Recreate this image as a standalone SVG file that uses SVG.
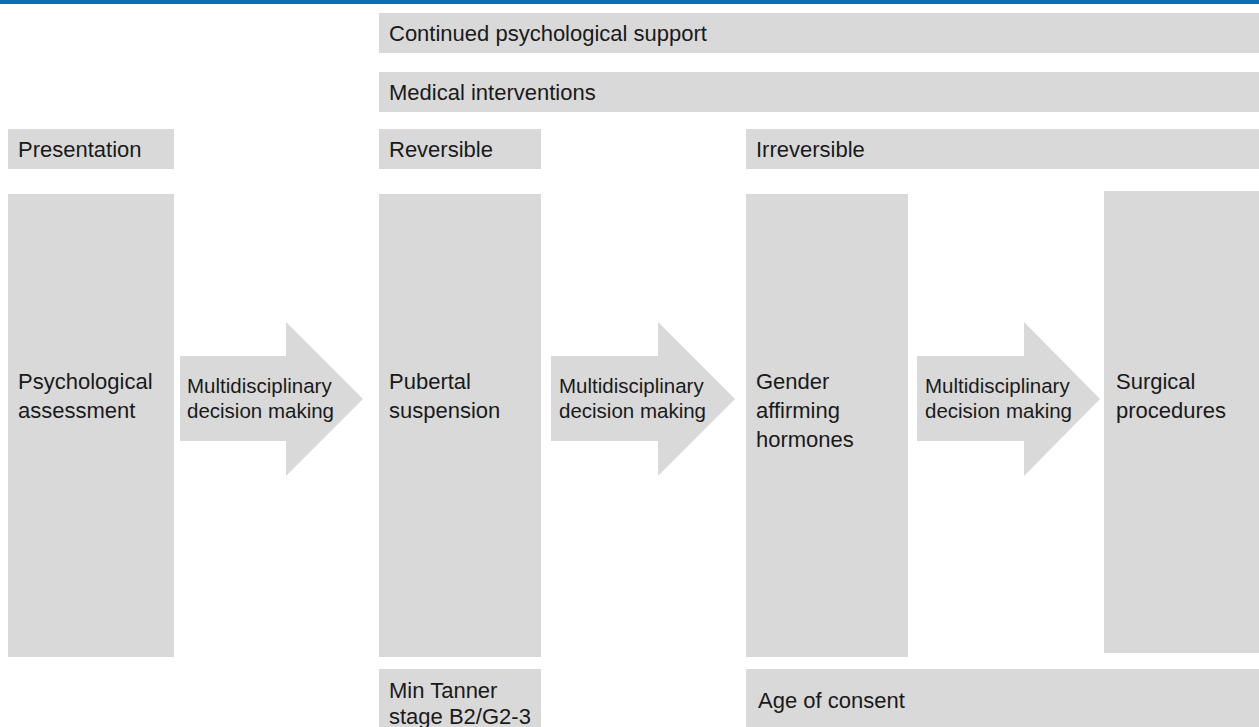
<svg xmlns="http://www.w3.org/2000/svg" width="1259" height="727" viewBox="0 0 1259 727">
  <style>
    .box { fill: #d9d9d9; }
    .lbl { font-family: "Liberation Sans", Arial, sans-serif; font-size: 22px; fill: #1a1a1a; }
    .arr { fill: #d9d9d9; }
    .alb { font-family: "Liberation Sans", Arial, sans-serif; font-size: 20.5px; fill: #1a1a1a; }
  </style>
  <rect x="0" y="0" width="1259" height="727" fill="#ffffff"/>
  <rect x="0" y="0" width="1259" height="4" fill="#0a6fb5"/>

  <g id="continued-support">
    <rect class="box" x="379" y="13" width="880" height="40"/>
    <text class="lbl" x="389" y="41">Continued psychological support</text>
  </g>
  <g id="medical-interventions">
    <rect class="box" x="379" y="72" width="880" height="40"/>
    <text class="lbl" x="389" y="100">Medical interventions</text>
  </g>
  <g id="presentation">
    <rect class="box" x="8" y="129" width="166" height="40"/>
    <text class="lbl" x="18" y="157">Presentation</text>
  </g>
  <g id="reversible">
    <rect class="box" x="379" y="129" width="162" height="40"/>
    <text class="lbl" x="389" y="157">Reversible</text>
  </g>
  <g id="irreversible">
    <rect class="box" x="746" y="129" width="513" height="40"/>
    <text class="lbl" x="756" y="157">Irreversible</text>
  </g>

  <g id="psychological-assessment">
    <rect class="box" x="8" y="194" width="166" height="463"/>
    <text class="lbl" x="18" y="389">Psychological</text>
    <text class="lbl" x="18" y="418">assessment</text>
  </g>
  <g id="pubertal-suspension">
    <rect class="box" x="379" y="194" width="162" height="463"/>
    <text class="lbl" x="389" y="389">Pubertal</text>
    <text class="lbl" x="389" y="418">suspension</text>
  </g>
  <g id="gender-affirming-hormones">
    <rect class="box" x="746" y="194" width="162" height="463"/>
    <text class="lbl" x="756" y="389">Gender</text>
    <text class="lbl" x="756" y="418">affirming</text>
    <text class="lbl" x="756" y="447">hormones</text>
  </g>
  <g id="surgical-procedures">
    <rect class="box" x="1104" y="191" width="155" height="462"/>
    <text class="lbl" x="1116" y="389">Surgical</text>
    <text class="lbl" x="1116" y="418">procedures</text>
  </g>

  <g id="min-tanner">
    <rect class="box" x="379" y="669" width="162" height="58"/>
    <text class="lbl" x="389" y="698">Min Tanner</text>
    <text class="lbl" x="389" y="724">stage B2/G2-3</text>
  </g>
  <g id="age-of-consent">
    <rect class="box" x="746" y="669" width="513" height="58"/>
    <text class="lbl" x="758" y="708">Age of consent</text>
  </g>

  <g id="connectors">
    <g id="arrow-1">
      <path class="arr" d="M180,356 H286 V322 L363,399 L286,476 V441 H180 Z"/>
      <text class="alb" x="187" y="393">Multidisciplinary</text>
      <text class="alb" x="187" y="418">decision making</text>
    </g>
    <g id="arrow-2">
      <path class="arr" d="M551,356 H658 V322 L735,399 L658,476 V441 H551 Z"/>
      <text class="alb" x="559" y="393">Multidisciplinary</text>
      <text class="alb" x="559" y="418">decision making</text>
    </g>
    <g id="arrow-3">
      <path class="arr" d="M917,356 H1024 V322 L1100,399 L1024,476 V441 H917 Z"/>
      <text class="alb" x="925" y="393">Multidisciplinary</text>
      <text class="alb" x="925" y="418">decision making</text>
    </g>
  </g>
</svg>
